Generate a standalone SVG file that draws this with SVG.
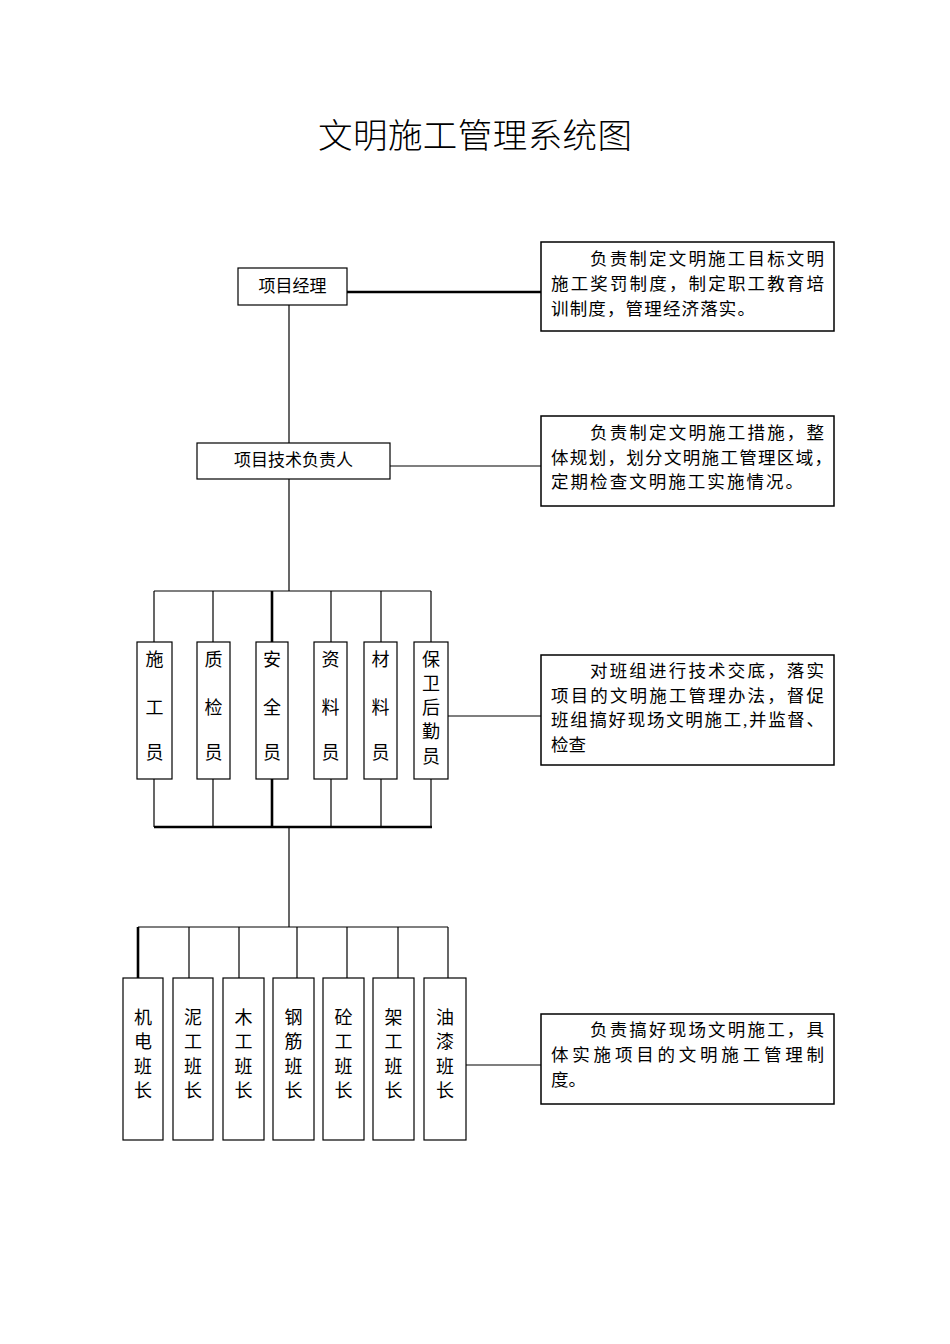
<svg xmlns="http://www.w3.org/2000/svg" width="950" height="1344" viewBox="0 0 950 1344">
<style>
.bg{fill:#fff}
.box{fill:#fff;stroke:#000;stroke-width:1.2}
.dbox{fill:#fff;stroke:#000;stroke-width:1.5}
.ln{stroke:#000;stroke-width:1.2;fill:none}
.thk{stroke:#000;stroke-width:2.6;fill:none}
text{font-family:"Liberation Serif","Noto Sans CJK SC",serif;fill:#000}
.t{font-size:17px}
.d{font-size:17.5px}
.v{font-size:18px;text-anchor:middle}
.title{font-size:34.5px;font-weight:300;text-anchor:middle}
</style>
<rect class="bg" width="950" height="1344"/>
<text class="title" x="475" y="148" textLength="314" lengthAdjust="spacing">文明施工管理系统图</text>

<g id="connectors">
<line class="thk" x1="347" y1="292" x2="541" y2="292"/>
<line class="ln" x1="289" y1="305" x2="289" y2="443"/>
<line class="ln" x1="390" y1="466" x2="541" y2="466"/>
<line class="ln" x1="289" y1="479" x2="289" y2="591"/>
<line class="ln" x1="154" y1="591" x2="431" y2="591"/>
<line class="ln" x1="154" y1="591" x2="154" y2="642"/>
<line class="ln" x1="213" y1="591" x2="213" y2="642"/>
<line class="thk" x1="272" y1="591" x2="272" y2="642"/>
<line class="ln" x1="331" y1="591" x2="331" y2="642"/>
<line class="ln" x1="381" y1="591" x2="381" y2="642"/>
<line class="ln" x1="431" y1="591" x2="431" y2="642"/>
<line class="ln" x1="154" y1="779" x2="154" y2="827"/>
<line class="ln" x1="213" y1="779" x2="213" y2="827"/>
<line class="thk" x1="272" y1="779" x2="272" y2="827"/>
<line class="ln" x1="331" y1="779" x2="331" y2="827"/>
<line class="ln" x1="381" y1="779" x2="381" y2="827"/>
<line class="ln" x1="431" y1="779" x2="431" y2="827"/>
<line class="thk" x1="154" y1="827" x2="432" y2="827"/>
<line class="ln" x1="448" y1="716" x2="541" y2="716"/>
<line class="ln" x1="289" y1="827" x2="289" y2="927"/>
<line class="ln" x1="138" y1="927" x2="448" y2="927"/>
<line class="thk" x1="138" y1="927" x2="138" y2="978"/>
<line class="ln" x1="189" y1="927" x2="189" y2="978"/>
<line class="ln" x1="239" y1="927" x2="239" y2="978"/>
<line class="ln" x1="297" y1="927" x2="297" y2="978"/>
<line class="ln" x1="347" y1="927" x2="347" y2="978"/>
<line class="ln" x1="398" y1="927" x2="398" y2="978"/>
<line class="ln" x1="448" y1="927" x2="448" y2="978"/>
<line class="ln" x1="466" y1="1065" x2="541" y2="1065"/>
</g>

<g id="pm">
<rect class="box" x="238" y="268" width="109" height="37"/>
<text class="t" x="292.5" y="292" text-anchor="middle">项目经理</text>
</g>
<g id="pm-desc">
<rect class="dbox" x="541" y="242" width="293" height="89"/>
<text class="d" x="590" y="265" textLength="234" lengthAdjust="spacing">负责制定文明施工目标文明</text>
<text class="d" x="551" y="290" textLength="273" lengthAdjust="spacing">施工奖罚制度，制定职工教育培</text>
<text class="d" x="551" y="315" textLength="204" lengthAdjust="spacing">训制度，管理经济落实。</text>
</g>

<g id="tech">
<rect class="box" x="197" y="443" width="193" height="36"/>
<text class="t" x="293.5" y="466" text-anchor="middle">项目技术负责人</text>
</g>
<g id="tech-desc">
<rect class="dbox" x="541" y="416" width="293" height="90"/>
<text class="d" x="590" y="439" textLength="234" lengthAdjust="spacing">负责制定文明施工措施，整</text>
<text class="d" x="551" y="464" textLength="281" lengthAdjust="spacing">体规划，划分文明施工管理区域，</text>
<text class="d" x="551" y="488" textLength="252" lengthAdjust="spacing">定期检查文明施工实施情况。</text>
</g>

<g id="sg"><rect class="box" x="137" y="642" width="35" height="137"/>
<text class="v" x="154.5" y="666">施</text><text class="v" x="154.5" y="714">工</text><text class="v" x="154.5" y="759">员</text></g>
<g id="zj"><rect class="box" x="197" y="642" width="33" height="137"/>
<text class="v" x="213.5" y="666">质</text><text class="v" x="213.5" y="714">检</text><text class="v" x="213.5" y="759">员</text></g>
<g id="aq"><rect class="box" x="256" y="642" width="32" height="137"/>
<text class="v" x="272" y="666">安</text><text class="v" x="272" y="714">全</text><text class="v" x="272" y="759">员</text></g>
<g id="zl"><rect class="box" x="314" y="642" width="33" height="137"/>
<text class="v" x="330.5" y="666">资</text><text class="v" x="330.5" y="714">料</text><text class="v" x="330.5" y="759">员</text></g>
<g id="cl"><rect class="box" x="364" y="642" width="33" height="137"/>
<text class="v" x="380.5" y="666">材</text><text class="v" x="380.5" y="714">料</text><text class="v" x="380.5" y="759">员</text></g>
<g id="bw"><rect class="box" x="414" y="642" width="34" height="137"/>
<text class="v" x="431" y="666">保</text><text class="v" x="431" y="690">卫</text><text class="v" x="431" y="714">后</text><text class="v" x="431" y="738">勤</text><text class="v" x="431" y="763">员</text></g>

<g id="staff-desc">
<rect class="dbox" x="541" y="655" width="293" height="110"/>
<text class="d" x="590" y="677" textLength="234" lengthAdjust="spacing">对班组进行技术交底，落实</text>
<text class="d" x="551" y="702" textLength="273" lengthAdjust="spacing">项目的文明施工管理办法，督促</text>
<text class="d" x="551" y="726" textLength="273" lengthAdjust="spacing">班组搞好现场文明施工,并监督、</text>
<text class="d" x="551" y="751">检查</text>
</g>

<g id="jd"><rect class="box" x="123" y="978" width="40" height="162"/>
<text class="v" x="143" y="1024">机</text><text class="v" x="143" y="1048">电</text><text class="v" x="143" y="1073">班</text><text class="v" x="143" y="1097">长</text></g>
<g id="ng"><rect class="box" x="173" y="978" width="40" height="162"/>
<text class="v" x="193" y="1024">泥</text><text class="v" x="193" y="1048">工</text><text class="v" x="193" y="1073">班</text><text class="v" x="193" y="1097">长</text></g>
<g id="mg"><rect class="box" x="223" y="978" width="41" height="162"/>
<text class="v" x="243.5" y="1024">木</text><text class="v" x="243.5" y="1048">工</text><text class="v" x="243.5" y="1073">班</text><text class="v" x="243.5" y="1097">长</text></g>
<g id="gj"><rect class="box" x="273" y="978" width="41" height="162"/>
<text class="v" x="293.5" y="1024">钢</text><text class="v" x="293.5" y="1048">筋</text><text class="v" x="293.5" y="1073">班</text><text class="v" x="293.5" y="1097">长</text></g>
<g id="tg"><rect class="box" x="323" y="978" width="41" height="162"/>
<text class="v" x="343.5" y="1024">砼</text><text class="v" x="343.5" y="1048">工</text><text class="v" x="343.5" y="1073">班</text><text class="v" x="343.5" y="1097">长</text></g>
<g id="jg"><rect class="box" x="373" y="978" width="41" height="162"/>
<text class="v" x="393.5" y="1024">架</text><text class="v" x="393.5" y="1048">工</text><text class="v" x="393.5" y="1073">班</text><text class="v" x="393.5" y="1097">长</text></g>
<g id="yq"><rect class="box" x="424" y="978" width="42" height="162"/>
<text class="v" x="445" y="1024">油</text><text class="v" x="445" y="1048">漆</text><text class="v" x="445" y="1073">班</text><text class="v" x="445" y="1097">长</text></g>

<g id="team-desc">
<rect class="dbox" x="541" y="1014" width="293" height="90"/>
<text class="d" x="590" y="1036" textLength="234" lengthAdjust="spacing">负责搞好现场文明施工，具</text>
<text class="d" x="551" y="1061" textLength="273" lengthAdjust="spacing">体实施项目的文明施工管理制</text>
<text class="d" x="551" y="1086">度。</text>
</g>
</svg>
